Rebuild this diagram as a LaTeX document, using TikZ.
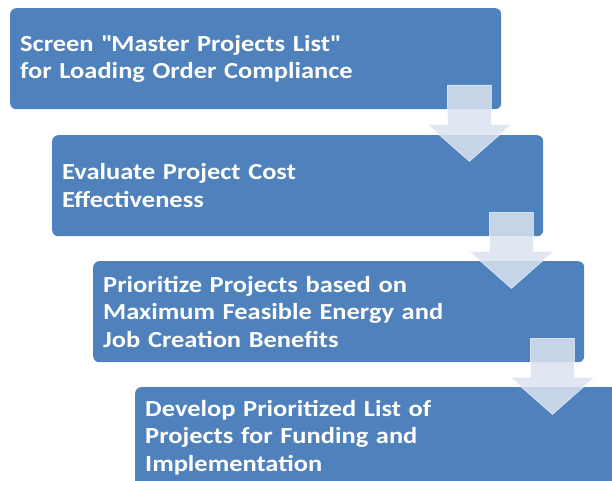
\documentclass[tikz,border=0pt]{standalone}
\usepackage{fontspec}
\setmainfont{Carlito}[FakeStretch=1.15]
\usepackage{tikz}
\usetikzlibrary{calc}
\definecolor{stepblue}{RGB}{79,129,189}
\definecolor{arrowfill}{RGB}{220,227,240}

\begin{document}
\begin{tikzpicture}[x=1pt,y=-1pt,
        stepbox/.style={fill=stepblue, rounded corners=6pt, anchor=north west,
            minimum width=491pt, minimum height=101pt, text width=471pt,
            inner xsep=10pt, align=left, text=white,
            font=\fontsize{23}{27.5}\selectfont\bfseries},
        flowarrow/.style={fill=arrowfill, fill opacity=0.85, draw=white,
            draw opacity=0.6, line width=0.8pt}]
        \useasboundingbox (0,0) rectangle (612,481);
        \clip (0,0) rectangle (612,481);

        \node [stepbox] (s1) at (10,8) {Screen \textquotedbl Master Projects List\textquotedbl\\for Loading Order Compliance};
        \node [stepbox] (s2) at (52,135) {Evaluate Project Cost\\Effectiveness};
        \node [stepbox] (s3) at (93,261) {Prioritize Projects based on\\Maximum Feasible Energy and\\Job Creation Benefits};
        \node [stepbox] (s4) at (135,387) {Develop Prioritized List of\\Projects for Funding and\\Implementation};

        \foreach \i in {1,2,3} {
            \draw [flowarrow] ($(s\i.south east)+(-32,0)$) ++(-22,-24) -- ++(44,0) -- ++(0,39)
                -- ++(20,0) -- ++(-42,37) -- ++(-42,-37) -- ++(20,0) -- cycle;
            };
    \end{tikzpicture}
\end{document}
